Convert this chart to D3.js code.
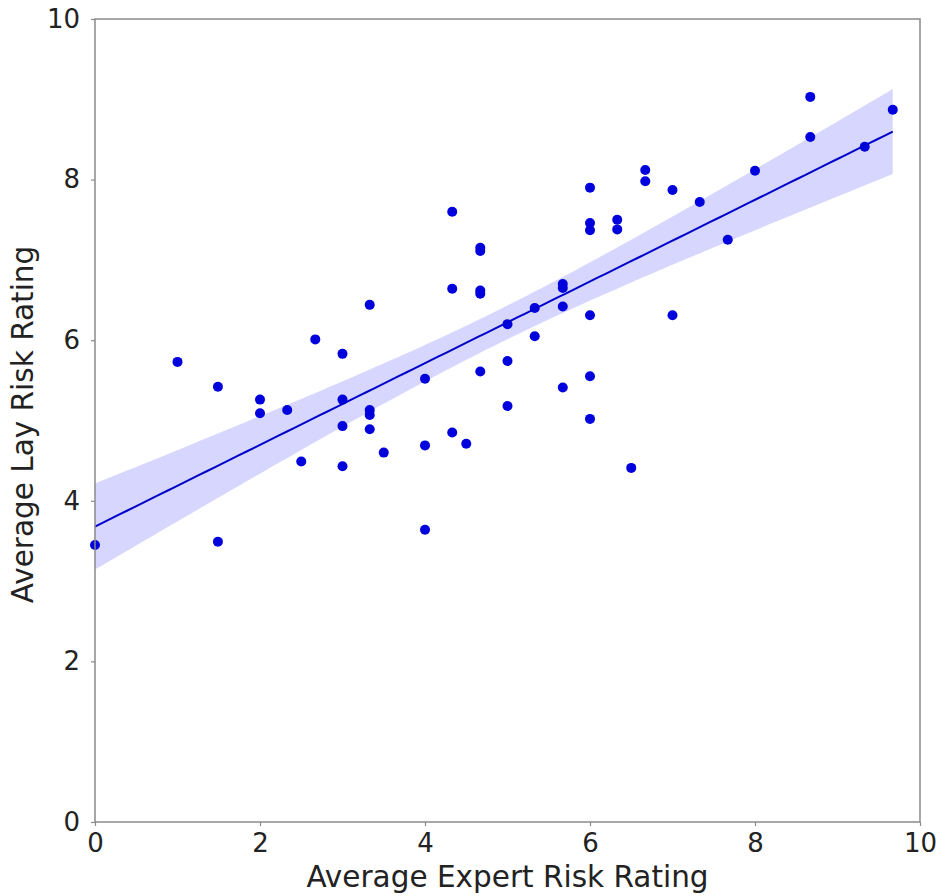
<!DOCTYPE html>
<html>
<head>
<meta charset="utf-8">
<script src="https://cdn.jsdelivr.net/npm/d3@7"></script>
<style>
  html, body { margin: 0; padding: 0; background: #fff; }
  svg { display: block; font-family: "DejaVu Sans", sans-serif; }
</style>
</head>
<body>
<svg id="chart" width="938" height="896"></svg>
<script>
// Average expert risk rating (x) and average lay risk rating (y)
const expertRatings = [
  0.00, 1.00, 1.49, 1.49, 2.00, 2.00, 2.33, 2.50, 2.67,
  3.00, 3.00, 3.00, 3.00, 3.33, 3.33, 3.33, 3.33, 3.50,
  4.00, 4.00, 4.00, 4.33, 4.33, 4.33, 4.50,
  4.67, 4.67, 4.67, 4.67, 4.67,
  5.00, 5.00, 5.00, 5.33, 5.33,
  5.67, 5.67, 5.67, 5.67,
  6.00, 6.00, 6.00, 6.00, 6.00, 6.00,
  6.33, 6.33, 6.50, 6.67, 6.67, 7.00, 7.00, 7.33, 7.67, 8.00,
  8.67, 8.67, 9.33, 9.67
];
const layRatings = [
  3.45, 5.73, 5.42, 3.49, 5.26, 5.09, 5.13, 4.49, 6.01,
  5.83, 5.26, 4.93, 4.43, 6.44, 5.13, 5.07, 4.89, 4.60,
  5.52, 4.69, 3.64, 7.60, 6.64, 4.85, 4.71,
  7.15, 7.11, 6.62, 6.58, 5.61,
  6.20, 5.74, 5.18, 6.40, 6.05,
  6.70, 6.65, 6.42, 5.41,
  7.90, 7.46, 7.37, 6.31, 5.55, 5.02,
  7.50, 7.38, 4.41, 8.12, 7.98, 7.87, 6.31, 7.72, 7.25, 8.11,
  9.03, 8.53, 8.41, 8.87
];
const xTicks = [0, 2, 4, 6, 8, 10];
const yTicks = [0, 2, 4, 6, 8, 10];
const xLabel = "Average Expert Risk Rating";
const yLabel = "Average Lay Risk Rating";

const svg = d3.select("#chart");
const margin = { left: 95, right: 18, top: 19, bottom: 74 };
const W = 938, H = 896;

const x = d3.scaleLinear().domain([0, 10]).range([margin.left, W - margin.right]);
const y = d3.scaleLinear().domain([0, 10]).range([H - margin.bottom, margin.top]);

const data = expertRatings.map((v, i) => ({ x: v, y: layRatings[i] }));

// Linear regression with 95% confidence band for the mean
const n = data.length;
const mx = d3.mean(data, d => d.x), my = d3.mean(data, d => d.y);
const sxx = d3.sum(data, d => (d.x - mx) ** 2);
const sxy = d3.sum(data, d => (d.x - mx) * (d.y - my));
const slope = sxy / sxx, intercept = my - slope * mx;
const sse = d3.sum(data, d => (d.y - (intercept + slope * d.x)) ** 2);
const s = Math.sqrt(sse / (n - 2));
const tcrit = 1.8;
const xmin = d3.min(expertRatings), xmax = d3.max(expertRatings);
const grid = d3.range(0, 101).map(i => xmin + (xmax - xmin) * i / 100);
const band = grid.map(g => {
  const yh = intercept + slope * g;
  const se = s * Math.sqrt(1 / n + (g - mx) ** 2 / sxx);
  return { x: g, y: yh, lo: yh - tcrit * se, hi: yh + tcrit * se };
});

const plot = svg.append("g");

plot.append("path")
  .datum(band)
  .attr("fill", "#0000ff")
  .attr("fill-opacity", 0.16)
  .attr("stroke", "none")
  .attr("d", d3.area().x(d => x(d.x)).y0(d => y(d.lo)).y1(d => y(d.hi)));

plot.selectAll("circle")
  .data(data)
  .join("circle")
  .attr("cx", d => x(d.x))
  .attr("cy", d => y(d.y))
  .attr("r", 5)
  .attr("fill", "#0000dd");

plot.append("path")
  .datum(band)
  .attr("fill", "none")
  .attr("stroke", "#0000cc")
  .attr("stroke-width", 2)
  .attr("d", d3.line().x(d => x(d.x)).y(d => y(d.y)));

// Frame
svg.append("rect")
  .attr("x", x(0)).attr("y", y(10))
  .attr("width", x(10) - x(0)).attr("height", y(0) - y(10))
  .attr("fill", "none").attr("stroke", "#8a8a8a").attr("stroke-width", 1.5);

// Axes
const xAxis = svg.append("g")
  .attr("transform", `translate(0,${y(0)})`)
  .call(d3.axisBottom(x).tickValues(xTicks).tickFormat(d3.format("d")).tickSize(4).tickPadding(8));
const yAxis = svg.append("g")
  .attr("transform", `translate(${x(0)},0)`)
  .call(d3.axisLeft(y).tickValues(yTicks).tickFormat(d3.format("d")).tickSize(4).tickPadding(11));

[xAxis, yAxis].forEach(a => {
  a.select(".domain").remove();
  a.selectAll(".tick line").attr("stroke", "#8a8a8a").attr("stroke-width", 1.2);
  a.selectAll(".tick text").attr("fill", "#222").style("font-size", "26px")
    .style("font-family", "'DejaVu Sans', sans-serif");
});

svg.append("text")
  .attr("x", (x(0) + x(10)) / 2)
  .attr("y", 887)
  .attr("text-anchor", "middle")
  .attr("fill", "#222")
  .style("font-size", "29.5px")
  .text(xLabel);

svg.append("text")
  .attr("transform", `translate(33,${(y(0) + y(10)) / 2 + 4}) rotate(-90)`)
  .attr("text-anchor", "middle")
  .attr("fill", "#222")
  .style("font-size", "29.5px")
  .text(yLabel);
</script>
</body>
</html>
